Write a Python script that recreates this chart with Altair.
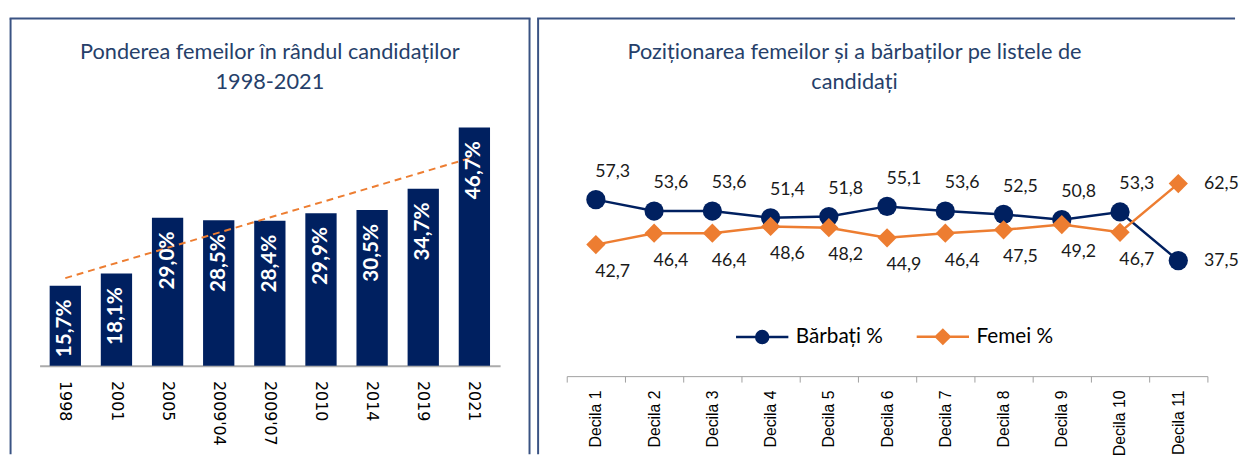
import altair as alt
import pandas as pd

# ---------------- data ----------------
years = ["1998", "2001", "2005", "2009'04", "2009'07", "2010", "2014", "2019", "2021"]
share = [15.7, 18.1, 29.0, 28.5, 28.4, 29.9, 30.5, 34.7, 46.7]

deciles = ["Decila 1", "Decila 2", "Decila 3", "Decila 4", "Decila 5", "Decila 6",
           "Decila 7", "Decila 8", "Decila 9", "Decila 10", "Decila 11"]
series_names = ["Bărbați %", "Femei %"]
barbati = [57.3, 53.6, 53.6, 51.4, 51.8, 55.1, 53.6, 52.5, 50.8, 53.3, 37.5]
femei = [42.7, 46.4, 46.4, 48.6, 48.2, 44.9, 46.4, 47.5, 49.2, 46.7, 62.5]

title_left = ["Ponderea femeilor în rândul candidaților", "1998-2021"]
title_right = ["Poziționarea femeilor și a bărbaților pe listele de", "candidați"]

# ---------------- styles ----------------
NAVY = "#002060"
ORANGE = "#ED7D31"
FRAME = "#3A5383"
TITLE_C = "#263F6A"

left_df = pd.DataFrame({"year": years, "share": share, "idx": list(range(len(years)))})
right_df = pd.DataFrame({
    "decila": deciles * 2,
    "series": [series_names[0]] * len(deciles) + [series_names[1]] * len(deciles),
    "value": barbati + femei,
})
blank = alt.Data(values=[{}])

# ---------------- left chart ----------------
LW, LH = 466.5, 258.5
xl = alt.X("year:N", sort=years,
           scale=alt.Scale(paddingInner=0.388, paddingOuter=0.197),
           axis=alt.Axis(title=None, labelAngle=90, labelAlign="left", labelBaseline="middle",
                         labelFont="DejaVu Sans", labelFontSize=16, labelColor="black",
                         labelPadding=15, ticks=False, domainColor="#ABABAB", domainWidth=2,
                         grid=False))
yl = alt.Y("share:Q", scale=alt.Scale(domain=[0, 50], nice=False), axis=None)

bars = alt.Chart(left_df).mark_bar(color=NAVY).encode(x=xl, y=yl)

trend = (alt.Chart(left_df)
         .transform_regression("idx", "share")
         .transform_lookup(lookup="idx",
                           from_=alt.LookupData(data=alt.InlineData(values=left_df.to_dict("records")),
                                                key="idx", fields=["year"]))
         .mark_line(color=ORANGE, strokeWidth=2, strokeDash=[7, 5])
         .encode(x=alt.X("year:N", sort=years), y=alt.Y("share:Q")))

bar_labels = (alt.Chart(left_df)
              .transform_calculate(lbl="replace(format(datum.share, '.1f'), '.', ',') + '%'")
              .mark_text(angle=270, align="right", baseline="middle", dx=-14,
                         font="Lato", fontSize=21, fontWeight="bold", color="white")
              .encode(x=alt.X("year:N", sort=years), y=alt.Y("share:Q"), text="lbl:N"))

lf_left = alt.Chart(blank).mark_rule(color=FRAME, strokeWidth=2).encode(
    x=alt.value(-29.4), y=alt.value(-93.2), y2=alt.value(348))
lf_top = alt.Chart(blank).mark_rule(color=FRAME, strokeWidth=2).encode(
    x=alt.value(-30.4), x2=alt.value(497.3), y=alt.value(-93.2))
lf_right = alt.Chart(blank).mark_rule(color=FRAME, strokeWidth=2).encode(
    x=alt.value(496.3), y=alt.value(-93.2), y2=alt.value(348))

left = alt.layer(bars, trend, bar_labels, lf_left, lf_top, lf_right).properties(
    width=LW, height=LH,
    title=alt.Title(title_left, font="Lato", fontSize=22, fontWeight="normal", color=TITLE_C,
                    lineHeight=30, baseline="middle", offset=-87, anchor="middle"))

# ---------------- right chart ----------------
RW, RH = 649, 269
xr = alt.X("decila:N", sort=deciles,
           scale=alt.Scale(type="band", paddingInner=0, paddingOuter=0),
           axis=alt.Axis(title=None, labelAngle=270, labelAlign="right", labelBaseline="middle",
                         labelFont="Liberation Sans", labelFontSize=16, labelColor="black",
                         labelPadding=8, tickBand="extent", tickSize=6, tickColor="#A0A0A0",
                         tickWidth=1, domainColor="#A0A0A0", domainWidth=1, grid=False))
yr = alt.Y("value:Q", scale=alt.Scale(domain=[0, 86.2], nice=False), axis=None)

f_b = "datum.series === 'Bărbați %'"
f_f = "datum.series === 'Femei %'"

line_b = (alt.Chart(right_df).transform_filter(f_b)
          .mark_line(strokeWidth=2.5, color=NAVY).encode(x=xr, y=yr))
line_f = (alt.Chart(right_df).transform_filter(f_f)
          .mark_line(strokeWidth=2.5, color=ORANGE).encode(x=xr, y=yr))
pts_b = (alt.Chart(right_df).transform_filter(f_b)
         .mark_point(filled=True, size=380, opacity=1, shape="circle", color=NAVY)
         .encode(x=xr, y=yr))
pts_f = (alt.Chart(right_df).transform_filter(f_f)
         .mark_point(filled=True, size=380, opacity=1, shape="diamond", color=ORANGE)
         .encode(x=xr, y=yr))

# legend (line + marker symbols) from an invisible layer; the legend is placed in the
# top-level (concat) frame, whose origin is the left panel's plot origin
path_b = "M-1,0L1,0M-0.23,0A0.23,0.23,0,1,1,0.23,0A0.23,0.23,0,1,1,-0.23,0Z"
path_f = "M-1,0L1,0M-0.26,0L0,-0.26L0.26,0L0,0.26Z"
leg = alt.Legend(title=None, orient="none", legendX=704, legendY=201, direction="horizontal",
                 labelFont="Lato", labelFontSize=21, labelColor="black", symbolSize=2809,
                 labelOffset=6, columnPadding=28, padding=0, symbolStrokeWidth=2.5,
                 symbolOpacity=1)
legend_layer = (alt.Chart(right_df)
                .mark_point(filled=True, opacity=0)
                .encode(
                    x=xr, y=yr,
                    fill=alt.Fill("series:N", scale=alt.Scale(domain=series_names, range=[NAVY, ORANGE]),
                                  legend=leg),
                    stroke=alt.Stroke("series:N", scale=alt.Scale(domain=series_names, range=[NAVY, ORANGE]),
                                      legend=leg),
                    shape=alt.Shape("series:N", scale=alt.Scale(domain=series_names, range=[path_b, path_f]),
                                    legend=leg)))

tbase = alt.Chart(right_df).transform_calculate(
    lbl="replace(format(datum.value, '.1f'), '.', ',')")
txt_enc = dict(x=alt.X("decila:N", sort=deciles), y=alt.Y("value:Q"), text="lbl:N")
t_b = (tbase.transform_filter(f_b + " && datum.decila !== 'Decila 11'")
       .mark_text(dx=17, dy=-28, font="Lato", fontSize=18, color="#1A1A1A").encode(**txt_enc))
t_f = (tbase.transform_filter(f_f + " && datum.decila !== 'Decila 11'")
       .mark_text(dx=17, dy=28, font="Lato", fontSize=18, color="#1A1A1A").encode(**txt_enc))
t_last = (tbase.transform_filter("datum.decila === 'Decila 11'")
          .mark_text(align="left", baseline="middle", dx=26, font="Lato", fontSize=18,
                     color="#1A1A1A").encode(**txt_enc))

rf_left = alt.Chart(blank).mark_rule(color=FRAME, strokeWidth=2).encode(
    x=alt.value(-29), y=alt.value(-93.2), y2=alt.value(348))
rf_top = alt.Chart(blank).mark_rule(color=FRAME, strokeWidth=2).encode(
    x=alt.value(-30), x2=alt.value(677), y=alt.value(-93.2))

right = alt.layer(line_b, line_f, pts_b, pts_f, legend_layer, t_b, t_f, t_last,
                  rf_left, rf_top).properties(
    width=RW, height=RH,
    title=alt.Title(title_right, font="Lato", fontSize=22, fontWeight="normal", color=TITLE_C,
                    lineHeight=30, baseline="middle", offset=-87, anchor="middle", dx=-33))

chart = (alt.hconcat(left, right, spacing=4)
         .properties(padding={"left": 0, "top": 6, "right": 0, "bottom": 0})
         .configure_view(stroke=None))

chart.save("out.html", embed_options={"renderer": "svg", "actions": False})
